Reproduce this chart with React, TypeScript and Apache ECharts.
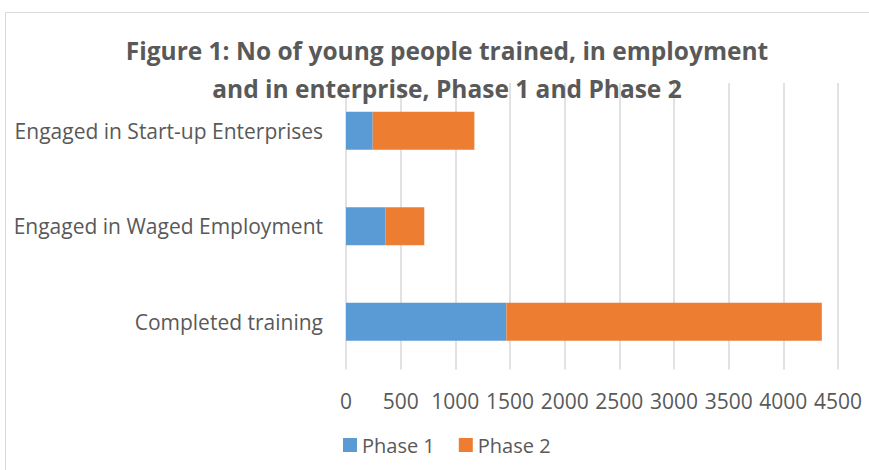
import React, { useEffect, useRef } from "react";
import * as echarts from "echarts";

const categories = ["Completed training", "Engaged in Waged Employment", "Engaged in Start-up Enterprises"];
const phase1 = [1467, 360, 244];
const phase2 = [2885, 356, 930];
const xTicks = { min: 0, max: 4500, interval: 500 };

export default function App() {
  const ref = useRef<HTMLDivElement>(null);
  useEffect(() => {
    const chart = echarts.init(ref.current!, null, { renderer: "svg" });
    const font = "Open Sans";
    chart.setOption({
      animation: false,
      backgroundColor: "#ffffff",
      title: {
        text: "Figure 1: No of young people trained, in employment\nand in enterprise, Phase 1 and Phase 2",
        left: 442,
        top: 26,
        textAlign: "center",
        textStyle: { fontFamily: font, fontWeight: "bold", fontSize: 24.5, color: "#595959", lineHeight: 38 },
      },
      graphic: [
        { type: "rect", shape: { x: 5.5, y: 12.5, width: 900, height: 500 }, style: { fill: "none", stroke: "#D9D9D9", lineWidth: 1 }, silent: true },
      ],
      grid: { left: 346, right: 31, top: 83, bottom: 100.5, containLabel: false },
      legend: {
        left: 338,
        top: 430,
        itemWidth: 14,
        itemHeight: 14,
        itemGap: 24,
        icon: "rect",
        textStyle: { fontFamily: font, fontSize: 20, color: "#595959" },
        data: ["Phase 1", "Phase 2"],
      },
      xAxis: {
        type: "value",
        min: xTicks.min,
        max: xTicks.max,
        interval: xTicks.interval,
        axisLine: { show: false },
        axisTick: { show: false },
        axisLabel: { fontFamily: font, fontSize: 21, color: "#595959", margin: 21, formatter: (v: number) => String(v) },
        splitLine: { show: true, lineStyle: { color: "#D9D9D9", width: 1.5 } },
      },
      yAxis: {
        type: "category",
        data: categories,
        axisLine: { show: false },
        axisTick: { show: false },
        axisLabel: { fontFamily: font, fontSize: 21, color: "#595959", margin: 23 },
      },
      series: [
        { name: "Phase 1", type: "bar", stack: "total", data: phase1, barWidth: "40%", itemStyle: { color: "#5B9BD5" } },
        { name: "Phase 2", type: "bar", stack: "total", data: phase2, barWidth: "40%", itemStyle: { color: "#ED7D31" } },
      ],
    });
    return () => chart.dispose();
  }, []);
  return <div ref={ref} style={{ width: 869, height: 470, position: "absolute", left: 0, top: 0 }} />;
}
